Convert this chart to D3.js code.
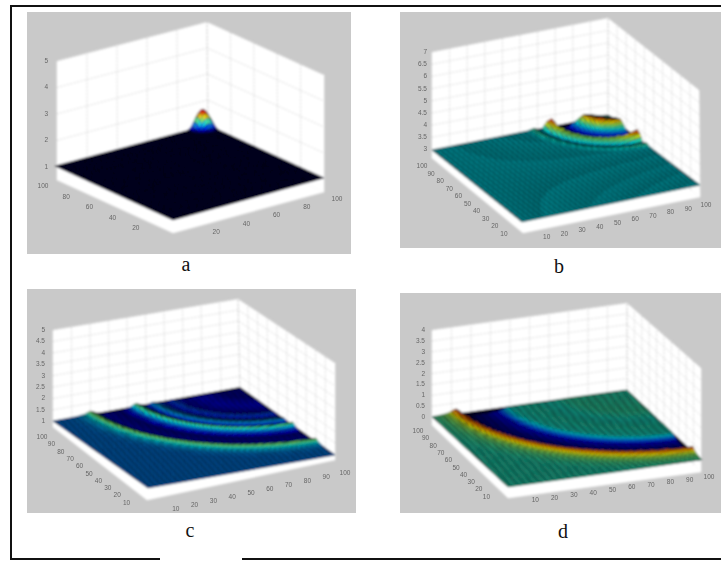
<!DOCTYPE html>
<html><head><meta charset="utf-8">
<script src="https://cdn.jsdelivr.net/npm/d3@7/dist/d3.min.js"></script>
<style>html,body{margin:0;padding:0;background:#fff}svg{display:block}</style>
</head><body><svg id="c" width="721" height="561"></svg>
<script>
// ---- values ----
const captions = ["a", "b", "c", "d"];
const xyTicksA = [20, 40, 60, 80, 100];
const xyTicksB = [10, 20, 30, 40, 50, 60, 70, 80, 90, 100];
const zTicksA = [1, 2, 3, 4, 5];
const zTicksB = [3, 3.5, 4, 4.5, 5, 5.5, 6, 6.5, 7];
const zTicksC = [1, 1.5, 2, 2.5, 3, 3.5, 4, 4.5, 5];
const zTicksD = [-0.5, 0, 0.5, 1, 1.5, 2, 2.5, 3, 3.5, 4];

// wave height against distance from the source (box side = 1)
const radiusA = [0, .012, .024, .036, .048, .06, .072, .09, 1.5];
const heightA = [1.72, 1.68, 1.58, 1.44, 1.28, 1.14, 1.05, 1, 1];
const radiusB = [0, .05, .1, .14, .18, .22, .26, .29, .32, .35, .38, .42, .46, 1.5];
const heightB = [3, 3.05, 3.2, 3.28, 3.05, 2.85, 2.78, 2.9, 3.14, 3.1, 2.96, 3.03, 3, 3];
const radiusC = [0, .1, .2, .3, .36, .4, .44, .47, .5, .53, .56, .59, .63, .68, .74, .77, .8, .83, .87, .92, 1, 1.5];
const heightC = [.92, .915, .94, .92, .98, .94, .99, 1.04, .93, 1.02, 1.13, .98, .915, .92, .93, 1.02, 1.15, 1.05, 1.01, 1, 1, 1];
const radiusD = [0, .3, .4, .5, .6, .62, .66, .72, .78, .82, .85, .87, .89, .91, .94, .98, 1.05, 1.5];
const heightD = [0, .01, -.01, 0, -.01, -.02, -.16, -.19, -.2, -.24, 0, .22, .2, .1, .05, .02, 0, 0];
// crest strength against bearing round the source (degrees)
const bearing = [0, 10, 20, 30, 40, 50, 60, 70, 80, 90];
const gainInnerB = [.8, .9, 1, .9, 1.1, 1.1, .85, 1, .9, .8];
const gainOuterB = [2.3, 1.6, 1.1, .95, .9, .9, .95, 1.1, 1.6, 2.3];
const gainFlat = [1, 1, 1, 1, 1, 1, 1, 1, 1, 1];

// ---- layout ----
const W = 721, H = 561, N = 72;
const panels = [
 {name:0, box:[27,12,324,242], cap:[186,271], source:[.95,.98], radius:radiusA, height:heightA, gainIn:gainFlat, gainOut:gainFlat,
  zDom:[.5,5], zTicks:zTicksA, color:[1,1.76], flat:1, mesh:.55, xy:xyTicksA, zGap:9,
  surf:{f:[173,220],r:[324,178],l:[55,166],b:[208,125]}, floor:{f:[173,233],r:[324,192],l:[57,180],b:[208,139]},
  top:{r:[324,75],l:[57,61],b:[207,22]}, off:{l:[-14,8],r:[13,9]}},
 {name:1, box:[400,12,321,236], cap:[559,273], source:[1,1], radius:radiusB, height:heightB, gainIn:gainInnerB, gainOut:gainOuterB,
  zDom:[2.65,7], zTicks:zTicksB, color:[2.757,3.43], flat:3, mesh:.8, xy:xyTicksB, zGap:5,
  surf:{f:[522,222],r:[700,185],l:[432,150],b:[608,115]}, floor:{f:[523,233],r:[700,197],l:[432,158],b:[608,126]},
  top:{r:[699,90],l:[432,52],b:[608,18]}, off:{l:[-10,10],r:[6,10]}},
 {name:2, box:[27,289,329,224], cap:[190,537], source:[1,1], radius:radiusC, height:heightC, gainIn:gainFlat, gainOut:gainFlat,
  zDom:[.75,5], zTicks:zTicksC, color:[.87,1.37], flat:1, mesh:.7, xy:xyTicksB, zGap:8,
  surf:{f:[148,488],r:[335,455],l:[53,421],b:[240,387]}, floor:{f:[147,500],r:[335,460],l:[53,427],b:[240,393]},
  top:{r:[335,363],l:[53,330],b:[238,299]}, off:{l:[-11,12],r:[10,15]}},
 {name:3, box:[400,293,321,220], cap:[563,538], source:[1,1], radius:radiusD, height:heightD, gainIn:gainFlat, gainOut:gainFlat,
  zDom:[-.36,4], zTicks:zTicksD, color:[-.244,.337], flat:0, mesh:.72, xy:xyTicksB, zGap:7,
  surf:{f:[508,487],r:[702,460],l:[432,417],b:[627,390]}, floor:{f:[508,498],r:[701,472],l:[432,425],b:[627,397]},
  top:{r:[701,368],l:[432,330],b:[627,303]}, off:{l:[-14,8],r:[8,7]}}
];

const jet = d3.scaleLinear()
  .domain([0, .06, .125, .375, .625, .875, 1])
  .range(["#00001c", "#00006a", "#0000ff", "#00ffff", "#ffff00", "#ff0000", "#800000"])
  .clamp(true);

const svg = d3.select("#c");
const defs = svg.append("defs");
defs.append("filter").attr("id","soft").attr("x","-5%").attr("y","-5%").attr("width","110%").attr("height","110%")
  .append("feGaussianBlur").attr("stdDeviation",.8);
defs.append("filter").attr("id","softer").attr("x","-30%").attr("y","-30%").attr("width","160%").attr("height","160%")
  .append("feGaussianBlur").attr("stdDeviation",.55);
svg.append("rect").attr("width",W).attr("height",H).attr("fill","#fff");

const lerp = (a,b,t)=>[a[0]+(b[0]-a[0])*t, a[1]+(b[1]-a[1])*t];
const bil = (q,u,v)=>lerp(lerp(q.f,q.r,u), lerp(q.l,q.b,u), v);
const line = d3.line();

panels.forEach(p=>{
  svg.append("rect").attr("x",p.box[0]).attr("y",p.box[1]).attr("width",p.box[2]).attr("height",p.box[3]).attr("fill","#c9c9c9");
  const clipId = "clip"+p.name;
  defs.append("clipPath").attr("id",clipId).append("rect").attr("x",p.box[0]).attr("y",p.box[1]).attr("width",p.box[2]).attr("height",p.box[3]);
  const g = svg.append("g").attr("clip-path",`url(#${clipId})`).append("g").attr("filter","url(#soft)");
  const labels = svg.append("g").attr("filter","url(#softer)")
    .attr("font-family","Liberation Sans").attr("font-size",6.5).attr("fill","#666");

  const uvScale = d3.scaleLinear().domain([0,100]).range([0,1]);
  const zFrac = d3.scaleLinear().domain(p.zDom).range([0,1]);
  const prof = d3.scaleLinear().domain(p.radius).range(p.height).clamp(true);
  const gainI = d3.scaleLinear().domain(bearing).range(p.gainIn).clamp(true);
  const gainO = d3.scaleLinear().domain(bearing).range(p.gainOut).clamp(true);
  const tOf = d3.scaleLinear().domain(p.color).range([0,1]);
  const pxPerZ = (p.floor.l[1]-p.top.l[1])/(p.zDom[1]-p.zDom[0]);

  // walls and floor
  const walls = g.append("g").attr("fill","#fff").attr("stroke","#fff").attr("stroke-width",.5);
  walls.append("path").attr("d",line([p.floor.l,p.floor.b,p.top.b,p.top.l])+"Z");
  walls.append("path").attr("d",line([p.floor.b,p.floor.r,p.top.r,p.top.b])+"Z");
  walls.append("path").attr("d",line([p.floor.l,p.floor.f,p.floor.r,p.floor.b])+"Z");

  // grid
  const grid = g.append("g").attr("stroke","#aaa").attr("stroke-width",.6).attr("stroke-dasharray","1.5 2").attr("fill","none");
  p.zTicks.forEach(z=>{
    const t = zFrac(z); if(t<0||t>1) return;
    const a = lerp(p.floor.l,p.top.l,t), b = lerp(p.floor.b,p.top.b,t), c = lerp(p.floor.r,p.top.r,t);
    grid.append("path").attr("d",line([a,b,c]));
    labels.append("text").attr("x",a[0]-p.zGap).attr("y",a[1]+2).attr("text-anchor","end").text(z);
  });
  p.xy.forEach(d=>{
    const t = uvScale(d);
    const a = lerp(p.floor.b,p.floor.r,1-t), a2 = lerp(p.top.b,p.top.r,1-t);
    const b = lerp(p.floor.b,p.floor.l,1-t), b2 = lerp(p.top.b,p.top.l,1-t);
    grid.append("path").attr("d",line([a,a2]));
    grid.append("path").attr("d",line([b,b2]));
    const lab = (e,off)=>labels.append("text").attr("x",e[0]+off[0]).attr("y",e[1]+off[1]).attr("text-anchor","middle").text(d);
    lab(lerp(p.floor.f,p.floor.l,t),p.off.l);
    lab(lerp(p.floor.f,p.floor.r,t),p.off.r);
  });

  // surface
  const zAt = (u,v)=>{
    const du=u-p.source[0], dv=v-p.source[1], r=Math.hypot(du,dv);
    const ang = Math.atan2(Math.abs(dv),Math.abs(du))*180/Math.PI;
    const dev = prof(r)-p.flat;
    return dev>0 ? p.flat+dev*(r<.2?gainI(ang):gainO(ang)) : p.flat+dev;
  };
  const pt = (u,v)=>{const q=bil(p.surf,u,v); return [q[0],q[1]-(zAt(u,v)-p.flat)*pxPerZ];};
  g.append("path").attr("d",line([p.surf.f,p.surf.r,p.surf.b,p.surf.l])+"Z").attr("fill","#00001c");
  const cells=[];
  for(let i=N-1;i>=0;i--) for(let j=N-1;j>=0;j--) cells.push([i,j]);
  g.append("g").selectAll("path").data(cells).join("path")
    .attr("d",([i,j])=>{
      const u0=i/N,u1=(i+1)/N,v0=j/N,v1=(j+1)/N;
      return line([pt(u0,v0),pt(u1,v0),pt(u1,v1),pt(u0,v1)])+"Z";})
    .attr("fill",([i,j])=>jet(tOf((zAt(i/N,j/N)+zAt((i+1)/N,j/N)+zAt(i/N,(j+1)/N)+zAt((i+1)/N,(j+1)/N))/4)))
    .attr("stroke",p.name===0?"#00001c":"#000").attr("stroke-opacity",p.mesh).attr("stroke-width",.55);

  svg.append("text").attr("x",p.cap[0]).attr("y",p.cap[1]).attr("text-anchor","middle")
    .attr("font-family","Liberation Serif").attr("font-size",20).attr("fill","#111").text(captions[p.name]);
});

// outer frame, open at the bottom
const frame = svg.append("g").attr("stroke","#111").attr("stroke-width",2).attr("fill","none");
frame.append("path").attr("d",line([[160,559],[11,559],[11,6],[721,6]]));
frame.append("path").attr("d",line([[242,559],[721,559]]));
</script></body></html>
